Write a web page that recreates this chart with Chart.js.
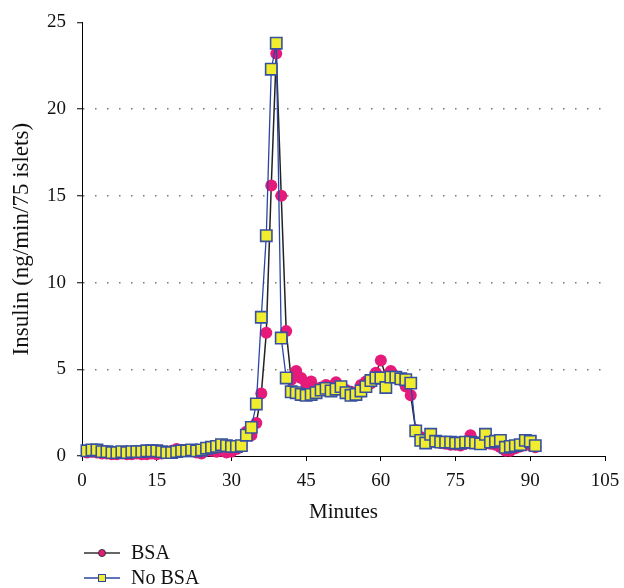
<!DOCTYPE html>
<html>
<head>
<meta charset="utf-8">
<script src="https://cdn.jsdelivr.net/npm/chart.js@4/dist/chart.umd.min.js"></script>
<style>
  body { margin: 0; background: #fff; }
  #myChart { display: block; }
</style>
</head>
<body>
<canvas id="myChart" width="624" height="588"></canvas>
<script>
// sampling times (minutes)
const minutes = [1, 2, 3, 4, 5, 6, 7, 8, 9, 10, 11, 12, 13, 14, 15, 16, 17, 18, 19, 20,
    21, 22, 23, 24, 25, 26, 27, 28, 29, 30, 31, 32, 33, 34, 35, 36, 37, 38, 39, 40,
    41, 42, 43, 44, 45, 46, 47, 48, 49, 50, 51, 52, 53, 54, 55, 56, 57, 58, 59, 60,
    61, 62, 63, 64, 65, 66, 67, 68, 69, 70, 71, 72, 73, 74, 75, 76, 77, 78, 79, 80,
    81, 82, 83, 84, 85, 86, 87, 88, 89, 90, 91];

const bsa = [0.2, 0.25, 0.2, 0.15, 0.15, 0.1, 0.1, 0.15, 0.1, 0.1, 0.15, 0.1, 0.1, 0.15, 0.1, 0.15, 0.2, 0.3, 0.4, 0.35,
    0.3, 0.35, 0.2, 0.15, 0.3, 0.3, 0.25, 0.3, 0.2, 0.25, 0.4, 0.6, 1.4, 1.2, 1.9, 3.6, 7.1, 15.6, 23.2, 15.0,
    7.2, 4.4, 4.9, 4.5, 4.2, 4.3, 3.9, 3.95, 4.1, 4.0, 4.25, 3.95, 3.8, 3.7, 3.65, 4.1, 4.3, 4.2, 4.8, 5.5,
    4.6, 4.9, 4.6, 4.4, 4.0, 3.5, 1.5, 1.1, 0.8, 1.0, 0.8, 0.75, 0.7, 0.65, 0.65, 0.6, 0.7, 1.2, 0.8, 0.7,
    0.75, 0.7, 0.65, 0.5, 0.3, 0.3, 0.45, 0.55, 0.7, 0.6, 0.5];

const noBsa = [0.3, 0.35, 0.35, 0.25, 0.25, 0.2, 0.2, 0.25, 0.2, 0.25, 0.25, 0.25, 0.3, 0.3, 0.3, 0.25, 0.2, 0.2, 0.25, 0.3,
    0.3, 0.35, 0.3, 0.35, 0.45, 0.5, 0.55, 0.65, 0.6, 0.55, 0.55, 0.6, 1.2, 1.65, 3.0, 8.0, 12.7, 22.3, 23.8, 6.8,
    4.5, 3.7, 3.65, 3.55, 3.5, 3.55, 3.65, 3.8, 3.9, 3.75, 3.85, 4.0, 3.65, 3.5, 3.55, 3.75, 4.0, 4.35, 4.5, 4.5,
    3.95, 4.55, 4.55, 4.45, 4.4, 4.2, 1.45, 0.9, 0.75, 1.25, 0.85, 0.8, 0.8, 0.8, 0.75, 0.75, 0.8, 0.8, 0.75, 0.7,
    1.25, 0.8, 0.85, 0.9, 0.5, 0.55, 0.6, 0.65, 0.9, 0.85, 0.6];

const seriesNames = ["BSA", "No BSA"];
const xTicks = [0, 15, 30, 45, 60, 75, 90, 105];
const yTicks = [0, 5, 10, 15, 20, 25];

const PINK = "rgb(229, 26, 122)";
const YELLOW = "rgb(240, 236, 46)";
const BLUE = "rgb(42, 70, 165)";
const SERIF = "'Liberation Serif', 'Times New Roman', serif";

function toPoints(values) {
    return minutes.map((m, i) => ({ x: m, y: values[i] }));
}

// hand-drawn legend below the axes: line + marker + label
const legendPlugin = {
    id: "sideLegend",
    afterDraw(chart) {
        const ctx = chart.ctx;
        const rows = [
            { y: 553, line: "#333", draw: (x, y) => {
                ctx.beginPath();
                ctx.arc(x, y, 3.5, 0, Math.PI * 2);
                ctx.fillStyle = PINK;
                ctx.fill();
                ctx.lineWidth = 1;
                ctx.strokeStyle = "#333";
                ctx.stroke();
            } },
            { y: 578, line: BLUE, draw: (x, y) => {
                ctx.fillStyle = YELLOW;
                ctx.fillRect(x - 3.5, y - 3.5, 7, 7);
                ctx.lineWidth = 1;
                ctx.strokeStyle = BLUE;
                ctx.strokeRect(x - 3.5, y - 3.5, 7, 7);
            } }
        ];
        ctx.save();
        rows.forEach((r, i) => {
            ctx.beginPath();
            ctx.moveTo(84, r.y);
            ctx.lineTo(120, r.y);
            ctx.lineWidth = 1.5;
            ctx.strokeStyle = r.line;
            ctx.stroke();
            r.draw(102, r.y);
            ctx.fillStyle = "#111";
            ctx.font = "20px " + SERIF;
            ctx.textBaseline = "middle";
            ctx.textAlign = "left";
            ctx.fillText(seriesNames[i], 131, r.y + 1);
        });
        ctx.restore();
    }
};

const ctx = document.getElementById("myChart");
const myChart = new Chart(ctx, {
    type: "line",
    data: {
        datasets: [{
            label: seriesNames[0],
            data: toPoints(bsa),
            borderColor: "#222",
            borderWidth: 1.5,
            pointStyle: "circle",
            pointRadius: 6,
            pointBackgroundColor: PINK,
            pointBorderColor: PINK,
            pointBorderWidth: 0,
            tension: 0,
            clip: false,
            order: 2
        }, {
            label: seriesNames[1],
            data: toPoints(noBsa),
            borderColor: BLUE,
            borderWidth: 1.3,
            pointStyle: "rect",
            pointRadius: 8,
            pointBackgroundColor: YELLOW,
            pointBorderColor: "rgb(55, 80, 160)",
            pointBorderWidth: 1.6,
            tension: 0,
            clip: false,
            order: 1
        }]
    },
    options: {
        responsive: false,
        animation: false,
        layout: { padding: { top: 18, right: 19, left: 0, bottom: 59 } },
        plugins: {
            legend: { display: false },
            tooltip: { enabled: false }
        },
        scales: {
            x: {
                type: "linear",
                min: 0,
                max: 105,
                afterBuildTicks: (scale) => { scale.ticks = xTicks.map(v => ({ value: v })); },
                afterFit: (scale) => { scale.height = 73; scale.paddingRight = 0; },
                ticks: { color: "#111", padding: 9, font: { family: SERIF, size: 19 } },
                grid: { drawOnChartArea: false, drawTicks: true, tickLength: 5, tickColor: "#000", tickWidth: 1 },
                border: { color: "#000", width: 1 },
                title: {
                    display: true,
                    text: "Minutes",
                    color: "#111",
                    font: { family: SERIF, size: 21 },
                    padding: { top: 0, bottom: 4 }
                }
            },
            y: {
                min: 0,
                max: 25,
                afterBuildTicks: (scale) => { scale.ticks = yTicks.map(v => ({ value: v })); },
                afterFit: (scale) => { scale.width = 82; },
                ticks: { color: "#111", padding: 11, font: { family: SERIF, size: 19 } },
                grid: {
                    color: (c) => (c.tick && (c.tick.value === 0 || c.tick.value === 25)) ? "rgba(0,0,0,0)" : "#777",
                    lineWidth: 1.5,
                    drawTicks: true,
                    tickLength: 5,
                    tickColor: "#000",
                    tickWidth: 1
                },
                border: { color: "#000", width: 1, dash: [1.5, 10.5] },
                title: {
                    display: true,
                    text: "Insulin (ng/min/75 islets)",
                    color: "#111",
                    font: { family: SERIF, size: 23 },
                    padding: { top: 8, bottom: 0 }
                }
            }
        }
    },
    plugins: [legendPlugin]
});
</script>
</body>
</html>
